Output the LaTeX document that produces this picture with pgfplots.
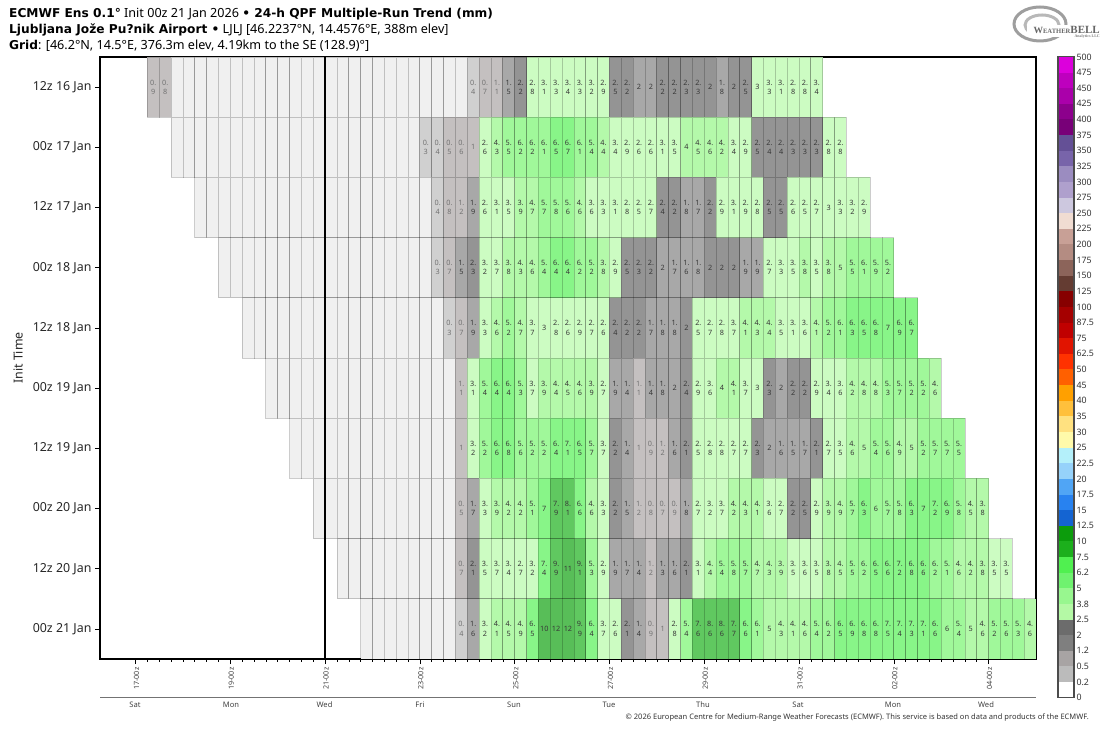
\documentclass[border=0pt]{standalone}
\usepackage{fontspec}
\usepackage{pgfplots}
\usepackage{pgfplotstable}
\pgfplotsset{compat=1.18}
\setmainfont{Noto Sans}
\newfontfamily\titlefont{DejaVu Sans}
\newfontfamily\logofont{Liberation Serif}

% cell colours, by bin of the 24-h QPF
\definecolor{c0}{HTML}{F0F0F0}
\definecolor{c1}{HTML}{D0D0D0}
\definecolor{c2}{HTML}{C4C0C0}
\definecolor{c3}{HTML}{A8A8A8}
\definecolor{c4}{HTML}{949494}
\definecolor{c5}{HTML}{CCFCC2}
\definecolor{c6}{HTML}{B4F9AA}
\definecolor{c7}{HTML}{A0F89A}
\definecolor{c8}{HTML}{88F588}
\definecolor{c9}{HTML}{60C860}
\definecolor{c10}{HTML}{58BE58}

% colour scale, bottom to top
\newcommand\barcol[2]{\definecolor{bar#1}{HTML}{#2}}
\barcol{0}{FFFFFF}\barcol{1}{BBBBBB}\barcol{2}{A8A4A4}\barcol{3}{7F7F7F}\barcol{4}{6C6C6C}
\barcol{5}{B4F9A5}\barcol{6}{98F78F}\barcol{7}{6FF26F}\barcol{8}{50F050}\barcol{9}{1CAF1C}
\barcol{10}{0C9C0C}\barcol{11}{1464D2}\barcol{12}{2882F0}\barcol{13}{50A5F5}\barcol{14}{96D2FA}
\barcol{15}{B4F0FA}\barcol{16}{FFFAAA}\barcol{17}{FFE180}\barcol{18}{FFC03C}\barcol{19}{FFA000}
\barcol{20}{FF6000}\barcol{21}{FF3200}\barcol{22}{E11400}\barcol{23}{C00000}\barcol{24}{A50000}
\barcol{25}{870000}\barcol{26}{643C32}\barcol{27}{8C645A}\barcol{28}{B48C82}\barcol{29}{C8A096}
\barcol{30}{F0DCD2}\barcol{31}{CDC8DF}\barcol{32}{AFA0CD}\barcol{33}{9B8CC0}\barcol{34}{7864AA}
\barcol{35}{645096}\barcol{36}{780078}\barcol{37}{8C008C}\barcol{38}{AA00AA}\barcol{39}{BE00BE}
\barcol{40}{DC00DC}

% point meta runs 0..100 in the axis, so the transformed value is mm x 10
\newdimen\cellv
\newcount\celln
\newcount\cellq
\newcommand\pickcell{%
  \cellv=\pgfplotspointmetatransformed pt\relax
  \def\cc{c0}%
  \ifdim\cellv>0.5pt\def\cc{c1}\fi
  \ifdim\cellv>4.5pt\def\cc{c2}\fi
  \ifdim\cellv>12.5pt\def\cc{c3}\fi
  \ifdim\cellv>19.8pt\def\cc{c4}\fi
  \ifdim\cellv>25.05pt\def\cc{c5}\fi
  \ifdim\cellv>37.5pt\def\cc{c6}\fi
  \ifdim\cellv>50.5pt\def\cc{c7}\fi
  \ifdim\cellv>62.5pt\def\cc{c8}\fi
  \ifdim\cellv>75.5pt\def\cc{c9}\fi
  \ifdim\cellv>99.5pt\def\cc{c10}\fi
}
% "0." over "9"; whole numbers on one line, 0 gets no label.
% \\ closes a group in the node, so what the second line needs is kept with \xdef
\newcommand\celllabel{%
  \cellv=\pgfplotspointmetatransformed pt\relax
  \celln=\numexpr\cellv/65536\relax
  \ifnum\celln>0
    \ifnum\celln<13 \xdef\cellc{black!55}\else\xdef\cellc{black!78}\fi
    \cellq=\celln \divide\cellq by 10
    \multiply\cellq by 10 \advance\celln by -\cellq \divide\cellq by 10
    \xdef\cellr{\the\celln}%
    \ifnum\celln=0 \color{\cellc}\the\cellq\else
      {\color{\cellc}\the\cellq.}\\{\color{\cellc}\cellr}\fi
  \fi
}

\pgfdeclareplotmark{cell}{%
  \pgfpathrectangle{\pgfpoint{0pt}{-30.1pt}}{\pgfpoint{11.848pt}{60.2pt}}%
  \pgfusepath{fill,stroke}}
\pgfdeclareplotmark{barcell}{%
  \pgfpathrectangle{\pgfpoint{0pt}{0pt}}{\pgfpoint{16pt}{15.63pt}}%
  \pgfusepath{fill}}

\pgfplotsset{
  cellmarks/.style={
    scatter, only marks, mark=cell, point meta=\thisrow{v},
    scatter/@pre marker code/.code={\pickcell
      \scope[fill=\cc, draw=black, draw opacity=0.2, line width=0.8pt]},
    scatter/@post marker code/.code={\endscope},
  },
  celllabels/.style={
    only marks, mark=none, point meta=\thisrow{v},
    nodes near coords=\celllabel,
    every node near coord/.style={anchor=center, inner sep=0pt, xshift=5.92pt,
      align=center, font=\fontsize{7.3}{9.2}\selectfont},
  },
}
\newcommand\drawrow[3]{%
  \addplot[cellmarks] table[x index=0, y index=0, x expr=\coordindex+#2, y expr=#3] {#1};
  \addplot[celllabels] table[x index=0, y index=0, x expr=\coordindex+#2, y expr=#3] {#1};
}
\newcommand\tb[1]{{\titlefont\bfseries\fontsize{12.2}{14}\selectfont #1}}

% one table per init run, first cell at the x given in \drawrow, 0 = no label
% a "2" that sits in the lower colour bin is kept as 1.96, a "2.5" in the upper one as 2.51
\pgfplotstableread[row sep=\\]{v\\0.9\\0.8\\0\\0\\0\\0\\0\\0\\0\\0\\0\\0\\0\\0\\0\\0\\0\\0\\0\\0\\0\\0\\0\\0\\0\\0\\0\\0.4\\0.7\\1.1\\1.5\\2.2\\2.8\\3.1\\3.3\\3.4\\3.3\\3.2\\2.9\\2.5\\2.2\\1.96\\1.96\\2.2\\2.2\\2.3\\2.3\\2\\1.8\\2\\2.5\\3\\3.3\\3.1\\2.8\\2.8\\3.4\\}\rowA
\pgfplotstableread[row sep=\\]{v\\0\\0\\0\\0\\0\\0\\0\\0\\0\\0\\0\\0\\0\\0\\0\\0\\0\\0\\0\\0\\0\\0.3\\0.4\\0.5\\0.6\\1\\2.6\\4.3\\5.5\\6.2\\6.2\\6.1\\6.5\\6.7\\6.1\\5.4\\4.4\\3.4\\2.9\\2.6\\2.6\\3.1\\3.5\\4\\4.5\\4.6\\4.2\\3.4\\2.9\\2.5\\2.4\\2.4\\2.3\\2.3\\2.3\\2.8\\2.8\\}\rowB
\pgfplotstableread[row sep=\\]{v\\0\\0\\0\\0\\0\\0\\0\\0\\0\\0\\0\\0\\0\\0\\0\\0\\0\\0\\0\\0\\0.4\\0.8\\1.2\\1.9\\2.6\\3.1\\3.5\\3.9\\4.7\\5.7\\5.8\\5.6\\4.6\\3.6\\3.3\\3.1\\2.8\\2.51\\2.7\\2.4\\2.2\\1.8\\1.7\\2.2\\2.9\\3.1\\2.9\\2.8\\2.5\\2.5\\2.6\\2.51\\2.7\\3\\3.3\\3.2\\2.9\\}\rowC
\pgfplotstableread[row sep=\\]{v\\0\\0\\0\\0\\0\\0\\0\\0\\0\\0\\0\\0\\0\\0\\0\\0\\0\\0\\0.3\\0.7\\1.5\\2.3\\3.2\\3.7\\3.8\\4.3\\4.6\\5.4\\6.4\\6.4\\6.2\\5.2\\3.8\\2.9\\2.5\\2.3\\2.2\\1.96\\1.7\\1.6\\1.8\\2\\2\\2\\1.9\\1.9\\2.7\\3.3\\3.5\\3.8\\3.5\\3.8\\5\\5.5\\6.1\\5.9\\5.2\\}\rowD
\pgfplotstableread[row sep=\\]{v\\0\\0\\0\\0\\0\\0\\0\\0\\0\\0\\0\\0\\0\\0\\0\\0\\0\\0.3\\0.7\\1.9\\3.3\\4.6\\5.2\\4.7\\3.7\\3\\2.8\\2.6\\2.9\\2.7\\2.6\\2.4\\2.2\\2.2\\1.7\\1.8\\1.8\\2\\2.51\\2.7\\2.8\\3.7\\4.1\\4.3\\4.4\\3.5\\3.1\\3.6\\4.1\\5.2\\6.1\\6.3\\6.5\\6.8\\7\\6.9\\6.7\\}\rowE
\pgfplotstableread[row sep=\\]{v\\0\\0\\0\\0\\0\\0\\0\\0\\0\\0\\0\\0\\0\\0\\0\\0\\1.1\\3.1\\5.4\\6.4\\6.4\\5.3\\3.7\\3.9\\4.4\\4.5\\4.6\\3.9\\2.7\\1.9\\1.4\\1.1\\1.4\\1.8\\1.96\\2.4\\2.9\\3.6\\4\\4.1\\3.7\\3\\2.3\\1.96\\2.2\\2.2\\2.9\\3.4\\3.6\\4.2\\4.8\\4.8\\5.3\\5.7\\5.2\\5.2\\4.6\\}\rowF
\pgfplotstableread[row sep=\\]{v\\0\\0\\0\\0\\0\\0\\0\\0\\0\\0\\0\\0\\0\\0\\1\\3.2\\5.2\\6.6\\6.8\\5.6\\5.2\\5.2\\6.4\\7.1\\6.5\\5.7\\3.7\\2.2\\1.4\\1\\0.9\\1.2\\1.6\\2.1\\2.51\\2.8\\2.8\\2.7\\2.7\\2.3\\1.96\\1.6\\1.5\\1.7\\2.1\\2.7\\3.5\\4.6\\5\\5.4\\5.6\\4.9\\5\\5.2\\5.7\\5.7\\5.5\\}\rowG
\pgfplotstableread[row sep=\\]{v\\0\\0\\0\\0\\0\\0\\0\\0\\0\\0\\0\\0\\0.5\\1.7\\3.3\\3.9\\4.2\\4.2\\5.1\\7\\7.9\\8.1\\6.6\\4.6\\3.3\\2.2\\1.5\\1.2\\0.8\\0.7\\0.9\\1.8\\2.7\\3.2\\3.7\\4.2\\4.3\\4.1\\3.6\\2.7\\2.2\\2.5\\2.9\\3.9\\4.9\\5.7\\6.3\\6\\5.7\\5.8\\6.3\\7\\7.2\\6.9\\5.8\\4.5\\3.8\\}\rowH
\pgfplotstableread[row sep=\\]{v\\0\\0\\0\\0\\0\\0\\0\\0\\0\\0\\0.7\\2.1\\3.5\\3.7\\3.4\\2.7\\3.2\\7.4\\9.9\\11\\9.1\\5.3\\2.9\\1.9\\1.7\\1.4\\1.2\\1.3\\1.6\\2.1\\3.1\\4.4\\5.4\\5.8\\5.7\\4.7\\4.3\\3.9\\3.5\\3.6\\3.5\\3.8\\4.5\\5.5\\6.2\\6.5\\6.6\\7.2\\6.8\\6.6\\6.2\\5.1\\4.6\\4.2\\3.8\\3.5\\3.5\\}\rowI
\pgfplotstableread[row sep=\\]{v\\0\\0\\0\\0\\0\\0\\0\\0\\0.4\\1.6\\3.2\\4.1\\4.5\\4.9\\6.5\\10\\12\\12\\9.9\\6.4\\3.7\\2.6\\2.1\\1.4\\0.9\\1\\2.8\\5.4\\7.6\\8.6\\8.6\\7.7\\6.6\\6.1\\5\\4.3\\4.1\\4.6\\5.4\\6.2\\6.5\\6.9\\6.8\\6.8\\7.5\\7.4\\7.3\\7.1\\6.6\\6\\5.4\\5\\4.6\\5.2\\5.6\\5.3\\4.6\\}\rowJ

\begin{document}
\begin{tikzpicture}
\path[use as bounding box] (0pt,0pt) rectangle (1108pt,730pt);

\begin{axis}[
    at={(100pt,71pt)}, anchor=south west,
    scale only axis, width=936pt, height=602pt,
    xmin=-19, xmax=60, ymin=-0.5, ymax=9.5, y dir=reverse,
    point meta min=0, point meta max=100,
    ytick={0,1,2,3,4,5,6,7,8,9},
    yticklabels={12z 16 Jan,00z 17 Jan,12z 17 Jan,00z 18 Jan,12z 18 Jan,00z 19 Jan,12z 19 Jan,00z 20 Jan,12z 20 Jan,00z 21 Jan},
    xtick={-16,-8,0,8,16,24,32,40,48,56},
    xticklabels={17-00z,19-00z,21-00z,23-00z,25-00z,27-00z,29-00z,31-00z,02-00z,04-00z},
    minor x tick num=7,
    xtick pos=bottom, ytick pos=left, tick align=outside,
    major tick length=5pt, minor tick length=2.5pt,
    tick style={black,line width=0.6pt},
    axis line style={black,line width=1.1pt},
    y tick label style={font=\fontsize{12.4}{14}\selectfont,color=black!85},
    x tick label style={font=\fontsize{7.2}{8}\selectfont,color=black!75,rotate=90,anchor=east,yshift=-1pt},
]
\drawrow{\rowA}{-15}{0}
\drawrow{\rowB}{-13}{1}
\drawrow{\rowC}{-11}{2}
\drawrow{\rowD}{-9}{3}
\drawrow{\rowE}{-7}{4}
\drawrow{\rowF}{-5}{5}
\drawrow{\rowG}{-3}{6}
\drawrow{\rowH}{-1}{7}
\drawrow{\rowI}{1}{8}
\drawrow{\rowJ}{3}{9}
\end{axis}
% init time of the latest run, over the cells
\draw[black,line width=2.2pt] (325.1pt,71pt) -- (325.1pt,673pt);

% colour scale
\begin{axis}[
    at={(1058pt,32.3pt)}, anchor=south west,
    scale only axis, width=16pt, height=640.8pt,
    xmin=0, xmax=1, ymin=0, ymax=41,
    point meta min=0, point meta max=1000,
    xtick=\empty,
    ytick={0,1,...,41},
    yticklabels={0,0.2,0.5,1.2,2,2.5,3.8,5,6.2,7.5,10,12.5,15,17.5,20,22.5,25,30,35,40,45,50,62.5,75,87.5,100,125,150,175,200,225,250,275,300,325,350,375,400,425,450,475,500},
    yticklabel pos=right, ytick style={draw=none},
    y tick label style={font=\fontsize{8.8}{10}\selectfont,color=black!80,xshift=-1pt},
    axis line style={draw=none},
]
\addplot[scatter, only marks, mark=barcell, point meta=y,
    scatter/@pre marker code/.code={%
      \edef\bc{bar\number\numexpr\dimexpr\pgfplotspointmetatransformed pt\relax/65536\relax}%
      \scope[fill=\bc]},
    scatter/@post marker code/.code={\endscope},
  ] coordinates {(0,0)(0,1)(0,2)(0,3)(0,4)(0,5)(0,6)(0,7)(0,8)(0,9)(0,10)(0,11)(0,12)(0,13)(0,14)(0,15)(0,16)(0,17)(0,18)(0,19)(0,20)(0,21)(0,22)(0,23)(0,24)(0,25)(0,26)(0,27)(0,28)(0,29)(0,30)(0,31)(0,32)(0,33)(0,34)(0,35)(0,36)(0,37)(0,38)(0,39)(0,40)};
\end{axis}
\draw[black!70,line width=1.1pt] (1058pt,32.3pt) rectangle (1074pt,673.1pt);

% title block
\node[anchor=base west,inner sep=0pt,font=\fontsize{12.6}{14}\selectfont] at (9pt,712pt)
  {\tb{ECMWF Ens 0.1°} Init 00z 21 Jan 2026 \tb{• 24-h QPF Multiple-Run Trend (mm)}};
\node[anchor=base west,inner sep=0pt,font=\fontsize{12.6}{14}\selectfont] at (9pt,696pt)
  {\tb{Ljubljana Jože Pu?nik Airport •} LJLJ [46.2237°N, 14.4576°E, 388m elev]};
\node[anchor=base west,inner sep=0pt,font=\fontsize{12.6}{14}\selectfont] at (9pt,680.5pt)
  {\tb{Grid}: [46.2°N, 14.5°E, 376.3m elev, 4.19km to the SE (128.9)°]};

\node[rotate=90,inner sep=0pt,font=\fontsize{12.4}{14}\selectfont,text=black!85] at (18pt,372pt) {Init Time};

% day strip under the time axis
\draw[black!55,line width=1.2pt] (100pt,32.3pt) -- (1036pt,32.3pt);
\foreach \px/\dayname in {135/Sat,231/Mon,324.5/Wed,420/Fri,514/Sun,609/Tue,703/Thu,798/Sat,893/Mon,986/Wed}
  \node[inner sep=0pt,font=\fontsize{7.6}{8}\selectfont,text=black!75] at (\px pt,25pt) {\dayname};

\node[anchor=base east,inner sep=0pt,font=\fontsize{7.54}{8}\selectfont,text=black!80] at (1089pt,10.5pt)
  {© 2026 European Centre for Medium-Range Weather Forecasts (ECMWF). This service is based on data and products of the ECMWF.};

% logo
\draw[black!38,line width=3pt] (1040pt,706pt) ellipse [x radius=26pt,y radius=17pt];
\draw[black!28,line width=3pt] (1042pt,705pt) ellipse [x radius=17pt,y radius=10pt];
\fill[white] (1027pt,693pt) rectangle (1102pt,705pt);
\node[anchor=east,inner sep=0pt,text=black!60,font=\logofont\bfseries] at (1100pt,700pt)
  {\fontsize{9.5}{10}\selectfont W\fontsize{6.6}{8}\selectfont EATHER\fontsize{11}{12}\selectfont BELL};
\node[anchor=east,inner sep=0pt,text=black!50,font=\fontsize{4}{5}\selectfont\logofont\bfseries] at (1100pt,693pt) {Analytics LLC};
\end{tikzpicture}
\end{document}
